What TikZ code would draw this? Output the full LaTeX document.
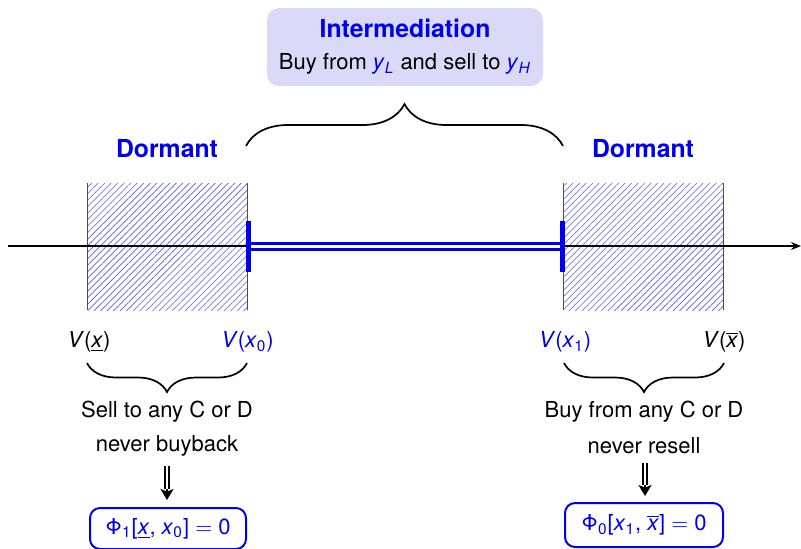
\documentclass[tikz,border=0pt]{standalone}
\usepackage{fontspec}
\setmainfont{TeX Gyre Heros}
\usetikzlibrary{arrows.meta,decorations.pathreplacing,patterns.meta}
\definecolor{pureblue}{RGB}{0,0,240}
\definecolor{boxfill}{RGB}{218,218,248}
\newcommand{\mv}[1]{\textit{#1}}
\tikzset{
  txt/.style={inner sep=0pt, font=\fontsize{11}{13}\selectfont},
  ttl/.style={inner sep=0pt, font=\fontsize{12.4}{14}\selectfont\bfseries, text=pureblue},
  zone/.style={inner sep=0pt, pattern={Lines[angle=45,distance=2.3pt,line width=0.3pt]}, pattern color=pureblue!65},
  zedge/.style={draw=black!70, line width=0.6pt},
  bracedeco/.style={decorate, decoration={brace, amplitude=#1}, line width=0.85pt},
  resbox/.style={draw=pureblue, line width=1pt, rounded corners=5pt, inner sep=0pt, font=\fontsize{11}{13}\selectfont, text=pureblue},
  implshaft/.style={double, double distance=1.3pt, line width=0.75pt},
  impltip/.style={line width=0.6pt, -{Stealth[length=5.5pt,width=6.5pt,inset=1.3pt]}},
}
\begin{document}
\begin{tikzpicture}[x=0.5pt, y=-0.5pt]
\useasboundingbox (0,0) rectangle (801,548);
% top box
\node[fill=boxfill, rounded corners=6pt, minimum width=138pt, minimum height=39pt, inner sep=0pt] (inter) at (405,47) {};
\node[ttl] (intertitle) at (405,28) {Intermediation};
\node[txt] (intersub) at (405,64) {Buy from \textcolor{pureblue}{\mv{y}\textsubscript{\mv{L}}} and sell to \textcolor{pureblue}{\mv{y}\textsubscript{\mv{H}}}};
% top brace
\coordinate (tb1) at (246,146);
\coordinate (tb2) at (563,146);
\draw[bracedeco=21pt] (tb1) -- (tb2);
% Dormant
\node[ttl] (dorml) at (167,149) {Dormant};
\node[ttl] (dormr) at (643,149) {Dormant};
% zones
\node[zone, minimum width=79.5pt, minimum height=63.5pt] (zl) at (167.5,246.5) {};
\node[zone, minimum width=79.5pt, minimum height=63.5pt] (zr) at (643.5,246.5) {};
\draw[zedge] (zl.north west) -- (zl.south west);
\draw[zedge] (zl.north east) -- (zl.south east);
\draw[zedge] (zr.north west) -- (zr.south west);
\draw[zedge] (zr.north east) -- (zr.south east);
% axis
\coordinate (axs) at (8,246);
\coordinate (axe) at (801,246);
\draw[line width=0.6pt, -{Stealth[length=5pt,width=4pt]}] (axs) -- (axe);
% intermediation interval
\coordinate (b1t) at (248.5,221);
\coordinate (b1b) at (248.5,272);
\coordinate (b2t) at (562.5,221);
\coordinate (b2b) at (562.5,272);
\coordinate (d1) at (248.5,246.5);
\coordinate (d2) at (562.5,246.5);
\draw[pureblue, line width=1.6pt, double=white, double distance=1.5pt] (d1) -- (d2);
\draw[pureblue, line width=2.6pt] (b1t) -- (b1b);
\draw[pureblue, line width=2.6pt] (b2t) -- (b2b);
% value labels
\node[txt] (vl) at (89,342) {\mv{V}(\underline{\mv{x}})};
\node[txt, text=pureblue] (vx0) at (247.5,342) {\mv{V}(\mv{x}\textsubscript{0})};
\node[txt, text=pureblue] (vx1) at (565,342) {\mv{V}(\mv{x}\textsubscript{1})};
\node[txt] (vr) at (724,342) {\mv{V}($\overline{\hbox{\mv{x}}}$)};
% bottom braces
\coordinate (lb1) at (247,363);
\coordinate (lb2) at (87,363);
\draw[bracedeco=14.5pt] (lb1) -- (lb2);
\coordinate (rb1) at (724,363);
\coordinate (rb2) at (564,363);
\draw[bracedeco=14.5pt] (rb1) -- (rb2);
% descriptions
\node[txt] (sl1) at (167,412) {Sell to any C or D};
\node[txt] (sl2) at (167,446) {never buyback};
\node[txt] (sr1) at (644,412) {Buy from any C or D};
\node[txt] (sr2) at (644,446) {never resell};
% implications
\coordinate (al1) at (167,466);
\coordinate (alm) at (167,489);
\coordinate (al2) at (167,500);
\draw[implshaft] (al1) -- (alm);
\draw[impltip] (alm) -- (al2);
\coordinate (ar1) at (645,463);
\coordinate (arm) at (645,485);
\coordinate (ar2) at (645,496);
\draw[implshaft] (ar1) -- (arm);
\draw[impltip] (arm) -- (ar2);
% result boxes
\node[resbox, minimum width=78pt, minimum height=20.5pt] (phil) at (168,528.5) {Φ\textsubscript{1}[\underline{\mv{x}}, \mv{x}\textsubscript{0}] $=$ 0};
\node[resbox, minimum width=79pt, minimum height=22pt] (phir) at (644,525) {Φ\textsubscript{0}[\mv{x}\textsubscript{1}, $\overline{\hbox{\mv{x}}}$] $=$ 0};
\end{tikzpicture}
\end{document}
